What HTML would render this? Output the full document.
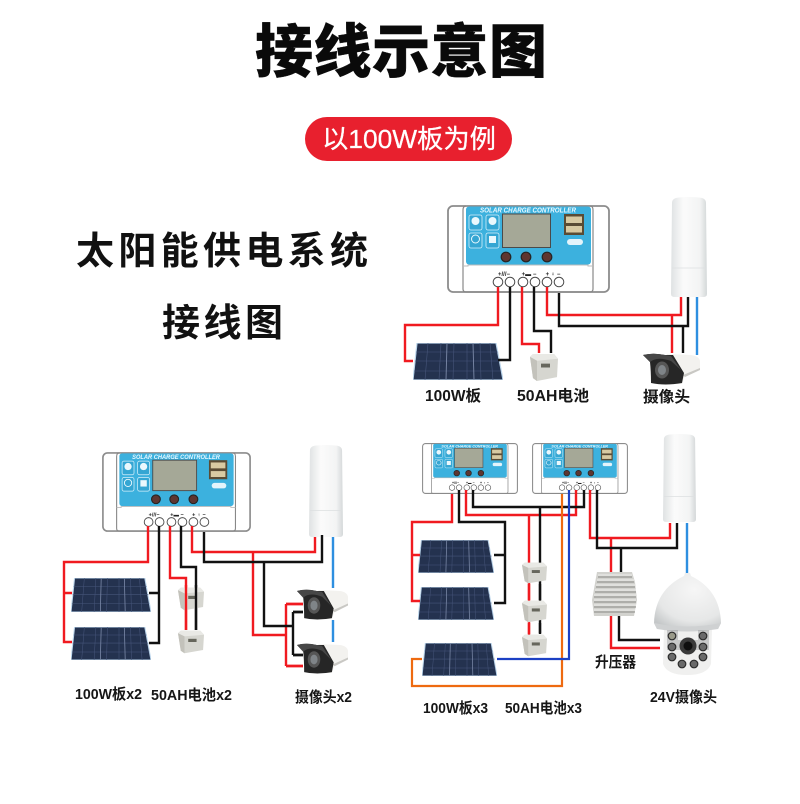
<!DOCTYPE html>
<html lang="zh"><head><meta charset="utf-8"><title>接线示意图</title>
<style>
html,body{margin:0;padding:0;background:#fff}
svg{display:block}
text{font-family:"Liberation Sans","Noto Sans CJK SC",sans-serif}
.t{font-weight:700;fill:#161616}
.r,.k,.b,.o,.d{fill:none;stroke-linejoin:miter}
.r{stroke:#f01a20;stroke-width:2.4}
.k{stroke:#111;stroke-width:2.4}
.b{stroke:#2e8fe0;stroke-width:2.4}
.o{stroke:#ee6a10;stroke-width:2.2}
.d{stroke:#1c40c4;stroke-width:2.2}
</style></head><body>
<svg width="800" height="804" viewBox="0 0 800 804" xmlns="http://www.w3.org/2000/svg">
<defs>
<linearGradient id="ap" x1="0" x2="1" y1="0" y2="0"><stop offset="0" stop-color="#dfe2e3"/><stop offset=".35" stop-color="#fbfbfb"/><stop offset=".8" stop-color="#f3f4f4"/><stop offset="1" stop-color="#d4d8d9"/></linearGradient>
<radialGradient id="dome" cx=".6" cy=".3" r=".8"><stop offset="0" stop-color="#f6f6f6"/><stop offset=".7" stop-color="#e6e7e7"/><stop offset="1" stop-color="#c4c7c8"/></radialGradient>
<symbol id="ctl" viewBox="0 0 163 88" preserveAspectRatio="none">
<rect x="1" y="1" width="161" height="86" rx="5" fill="#fff" stroke="#8c8c8c" stroke-width="1.800"/>
<path d="M19 1 Q16 1 16 5 V84 Q16 87 19 87 H143 Q146 87 146 84 V5 Q146 1 143 1" fill="none" stroke="#888" stroke-width="1.200"/>
<rect x="19" y="1.500" width="125" height="58" rx="3" fill="#3cb1de"/>
<path d="M16 61 H21 V60 H141 V61 H146" fill="none" stroke="#bbb" stroke-width="1"/>
<text x="81" y="7.500" font-size="7" font-weight="700" font-style="italic" fill="#e8f8ff" text-anchor="middle" textLength="96" lengthAdjust="spacingAndGlyphs">SOLAR CHARGE CONTROLLER</text>
<rect x="55.500" y="9" width="48" height="33.500" fill="#a5a897" stroke="#4a4a4a" stroke-width="1"/>
<rect x="117" y="9" width="20" height="21" fill="#5a4c34"/>
<rect x="119" y="11.500" width="16" height="6.500" fill="#d8caa2"/><rect x="119" y="21" width="16" height="6.500" fill="#d8caa2"/>
<rect x="120" y="34" width="16" height="6" rx="3" fill="#e3f4fb"/>
<g fill="#35a6d3" stroke="#d5f0fb" stroke-width=".8">
<rect x="22" y="10" width="13" height="15" rx="2"/><rect x="39" y="10" width="13" height="15" rx="2"/>
<rect x="22" y="28" width="13" height="15" rx="2"/><rect x="39" y="28" width="13" height="15" rx="2"/>
</g>
<circle cx="28.500" cy="16" r="4" fill="#eaf8fd"/><circle cx="45.500" cy="16" r="4" fill="#eaf8fd"/><circle cx="28.500" cy="34" r="4" fill="none" stroke="#eaf8fd"/><rect x="42" y="31" width="7" height="7" fill="#eaf8fd"/>
<g fill="#5e3530" stroke="#242424" stroke-width="1.200"><circle cx="59" cy="52" r="4.800"/><circle cx="79" cy="52" r="4.800"/><circle cx="100" cy="52" r="4.800"/></g>
<text x="57" y="71" font-size="6" font-weight="700" fill="#222" text-anchor="middle">+///−</text>
<text x="82" y="71" font-size="6" font-weight="700" fill="#222" text-anchor="middle">+▬ −</text>
<text x="106" y="71" font-size="6" font-weight="700" fill="#222" text-anchor="middle">+ ♀ −</text>
<g fill="#fff" stroke="#4a4a4a" stroke-width="1"><circle cx="51" cy="77" r="4.800"/><circle cx="63" cy="77" r="4.800"/><circle cx="76" cy="77" r="4.800"/><circle cx="88" cy="77" r="4.800"/><circle cx="100" cy="77" r="4.800"/><circle cx="112" cy="77" r="4.800"/></g>
</symbol>
<symbol id="apx" viewBox="0 0 36 100" preserveAspectRatio="none">
<path d="M1 6 Q1 1 8 .5 Q18 -.5 28 .5 Q35 1 35 6 L36 97 Q36 100 32 100 L4 100 Q0 100 0 97 Z" fill="url(#ap)"/>
<path d="M1 71 H35" stroke="#dcdfe0" stroke-width=".8"/>
</symbol>
<symbol id="panel" viewBox="0 0 90 37" preserveAspectRatio="none">
<polygon points="4,0 83,0 90,37 0,37" fill="#24324f" stroke="#bcd6ec" stroke-width="1.200"/>
<g stroke="#46557a" stroke-width=".6">
<path d="M3 9 H85 M2 18 H87 M1 28 H88"/>
<path d="M15 0 L12 37 M28 0 L26 37 M41 0 L40 37 M54 0 L54 37 M67 0 L68 37 M77 0 L80 37"/>
</g>
<g stroke="#7b89a8" stroke-width=".9"><path d="M34 0 L33 37 M60 0 L61 37"/></g>
</symbol>
<symbol id="bat" viewBox="0 0 28 30" preserveAspectRatio="none">
<polygon points="0,4 3,1 24,1 28,6 27,25 7,29 3,26" fill="#d6d6d0"/>
<polygon points="0,4 3,1 24,1 28,6 7,8" fill="#e9e9e5"/>
<polygon points="0,4 7,8 7,29 3,26" fill="#c3c2bb"/>
<rect x="11" y="11" width="9" height="4" fill="#66665c"/>
</symbol>
<symbol id="cam" viewBox="0 0 57 32" preserveAspectRatio="none">
<path d="M24 1 L48 2 Q56 3 57 8 L57 16 L42 23 L39 31 L20 31 Z" fill="#f3f2ef"/>
<path d="M40 22 L57 15 L57 17 L42 24 Z" fill="#c9c8c4"/>
<path d="M0 2 Q10 -.5 22 2 L30 2 L41 20 L39 30 Q22 33 8 30 Q8 18 7 9 Z" fill="#262626"/>
<path d="M0 2 Q10 -.5 22 2 L28 3 L38 17 L28 8 Q14 3 7 9 Z" fill="#474747"/>
<ellipse cx="19" cy="17" rx="7" ry="8.500" fill="#565656"/>
<ellipse cx="19" cy="17" rx="4" ry="5" fill="#7f8488"/>
</symbol>
</defs>

<text x="255" y="72" font-size="58" font-weight="900" fill="#0a0a0a" stroke="#0a0a0a" stroke-width=".4" textLength="292" style="font-family:'Noto Sans CJK SC',sans-serif">接线示意图</text>
<rect x="305" y="117" width="207" height="44" rx="22" fill="#e8202e"/>
<text x="322" y="148" font-size="26" fill="#fff" stroke="#fff" stroke-width=".25" textLength="174" lengthAdjust="spacingAndGlyphs">以100W板为例</text>
<text x="76" y="264" font-size="38" font-weight="700" fill="#111" textLength="292" style="font-family:'Noto Sans CJK SC',sans-serif">太阳能供电系统</text>
<text x="162" y="336" font-size="38" font-weight="700" fill="#111" textLength="121" style="font-family:'Noto Sans CJK SC',sans-serif">接线图</text>

<!-- top diagram -->
<use href="#panel" x="413" y="343" width="90" height="37"/>
<use href="#ctl" x="447" y="205" width="163" height="88"/>
<use href="#apx" x="671" y="197" width="36" height="100"/>
<path class="r" d="M498 287V325H405V361H413"/>
<path class="k" d="M510 287V360H498"/>
<path class="r" d="M522 287V344H539V353"/>
<path class="k" d="M534 287V331H551V353"/>
<path class="r" d="M547 287V315H681V297M672 315V353"/>
<path class="k" d="M559 293V326H688V297M683 326V353"/>
<path class="b" d="M697 297V355"/>
<use href="#bat" x="530" y="353" width="28" height="29"/>
<use href="#cam" x="643" y="353" width="57" height="32"/>
<text class="t" x="425" y="401" font-size="15.500" textLength="56" lengthAdjust="spacingAndGlyphs">100W板</text>
<text class="t" x="517" y="401" font-size="15.500" textLength="72" lengthAdjust="spacingAndGlyphs">50AH电池</text>
<text class="t" x="643" y="402" font-size="15.500" textLength="47" lengthAdjust="spacingAndGlyphs">摄像头</text>

<!-- left diagram -->
<use href="#panel" x="71" y="578" width="80" height="34"/>
<use href="#panel" x="71" y="627" width="80" height="33"/>
<use href="#ctl" x="102" y="452" width="149" height="80"/>
<use href="#apx" x="309" y="445" width="34" height="92"/>
<path class="r" d="M148 526V562H64V642H72M64 593H72"/>
<path class="k" d="M159 526V643H149M159 593H149"/>
<path class="r" d="M170 526V578H186V630"/>
<path class="k" d="M181 526V567H196V630"/>
<path class="r" d="M192 526V552H315V537M253 552V635H286M286 604V666M286 604H303M286 666H303"/>
<path class="k" d="M204 532V562H322V535M264 562V626H293M293 612V655M293 612H303M293 655H303"/>
<path class="b" d="M333 537V588M333 620V642"/>
<use href="#bat" x="178" y="587" width="26" height="24"/>
<use href="#bat" x="178" y="630" width="26" height="24"/>
<path class="r" d="M186 585V630" />
<path class="k" d="M196 585V630" />
<use href="#cam" x="297" y="589" width="51" height="31"/>
<use href="#cam" x="297" y="643" width="51" height="31"/>
<path class="r" d="M286 604H303M286 666H303"/>
<path class="k" d="M293 612H303M293 655H303"/>
<text class="t" x="75" y="699" font-size="15" textLength="67" lengthAdjust="spacingAndGlyphs">100W板x2</text>
<text class="t" x="151" y="700" font-size="15" textLength="81" lengthAdjust="spacingAndGlyphs">50AH电池x2</text>
<text class="t" x="295" y="702" font-size="15" textLength="57" lengthAdjust="spacingAndGlyphs">摄像头x2</text>

<!-- right diagram -->
<use href="#panel" x="418" y="540" width="76" height="33"/>
<use href="#panel" x="418" y="587" width="76" height="33"/>
<use href="#panel" x="422" y="643" width="75" height="33"/>
<use href="#ctl" x="422" y="443" width="96" height="51"/>
<use href="#ctl" x="532" y="443" width="96" height="51"/>
<use href="#apx" x="663" y="434" width="33" height="88"/>
<path class="r" d="M452 494V522H412V601H420M412 555H420"/>
<path class="k" d="M459 490V522H505V603H494M505 555H494"/>
<path class="r" d="M466 490V515H576V490M529 515V636"/>
<path class="k" d="M473 490V507H584V490M540 507V633"/>
<path class="o" d="M562 494V686H412V659H422"/>
<path class="d" d="M569 490V659H497"/>
<path class="r" d="M590 490V538H670V523M611 538V572"/>
<path class="k" d="M597 490V548H677V523M621 548V572"/>
<path class="b" d="M687 523V575"/>
<path class="r" d="M611 615V648H660"/>
<path class="k" d="M619 615V640H660"/>
<use href="#bat" x="522" y="562" width="25" height="22"/>
<use href="#bat" x="522" y="600" width="25" height="23"/>
<use href="#bat" x="522" y="634" width="25" height="23"/>
<path class="r" d="M529 584V600M529 623V634"/>
<path class="k" d="M540 584V600M540 623V634"/>
<!-- booster -->
<path d="M597 572 H632 L635 582 L637 600 L634 616 H594 L592 600 Z" fill="#d2d2ce"/>
<g stroke="#8b8b86" stroke-width="1"><path d="M598 577 H632M597 582 H634M596 587 H635M595 592 H636M594 597 H636M594 602 H636M594 607 H636M594 612 H635"/></g>
<g stroke="#efefec" stroke-width="1"><path d="M598 575 H632M597 580 H634M596 585 H635M595 590 H636M594 595 H636M594 600 H636M594 605 H636M594 610 H635"/></g>
<!-- dome -->
<path d="M663 664 Q667 675 687 675 Q707 675 711 664 L712 628 H664 Z" fill="#f0f0ef"/>
<path d="M654 623 Q655 590 684 576 L685 573 H690 L691 576 Q720 590 721 623 L718 629 H657 Z" fill="url(#dome)"/>
<path d="M654 623 Q687 630 721 623 L718 629 Q687 634 657 629 Z" fill="#cfd1d2"/>
<path d="M667 630 H678 V640 H698 V630 H709 V650 H667 Z" fill="#7f8184" opacity=".35"/>
<circle cx="688" cy="646" r="8.500" fill="#3a3a3a"/>
<circle cx="688" cy="646" r="4.500" fill="#0f0f0f"/>
<g fill="#6a6a6a" stroke="#2c2c2c" stroke-width="1.200"><circle cx="672" cy="636" r="3.800" fill="#9a9a8a"/><circle cx="703" cy="636" r="3.800"/><circle cx="672" cy="647" r="3.800"/><circle cx="703" cy="647" r="3.800"/><circle cx="672" cy="657" r="3.800"/><circle cx="703" cy="657" r="3.800"/><circle cx="682" cy="664" r="3.800"/><circle cx="694" cy="664" r="3.800"/></g>
<text class="t" x="595" y="667" font-size="15" textLength="41" lengthAdjust="spacingAndGlyphs">升压器</text>
<text class="t" x="650" y="702" font-size="15" textLength="67" lengthAdjust="spacingAndGlyphs">24V摄像头</text>
<text class="t" x="423" y="713" font-size="15" textLength="65" lengthAdjust="spacingAndGlyphs">100W板x3</text>
<text class="t" x="505" y="713" font-size="15" textLength="77" lengthAdjust="spacingAndGlyphs">50AH电池x3</text>
</svg>
</body></html>
